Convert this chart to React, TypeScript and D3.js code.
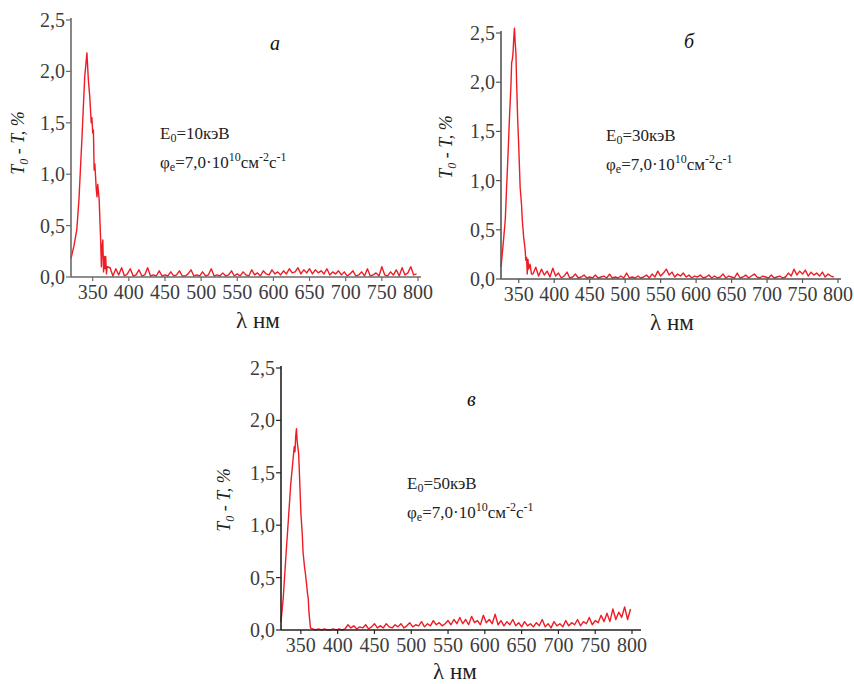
import React from "react";
import * as d3 from "d3";

// tick values shared by the three panels
const yTicks = [0, 0.5, 1, 1.5, 2, 2.5];
const xTicks = [350, 400, 450, 500, 550, 600, 650, 700, 750, 800];

// panel a: E0 = 10 keV
const peakA_x = [320, 324, 328, 331, 335, 339, 341, 342, 343, 344, 346, 348, 349, 350, 351, 352, 353, 355, 356, 357, 359, 360, 361, 362, 363, 364, 365, 366, 367, 368, 369, 370];
const peakA_y = [0.18, 0.3, 0.46, 0.75, 1.33, 1.95, 2.1, 2.18, 2.05, 1.92, 1.75, 1.5, 1.55, 1.4, 1.43, 1.04, 1.1, 0.85, 0.78, 0.9, 0.75, 0.55, 0.36, 0.1, 0.3, 0.36, 0.05, 0.2, 0.08, 0.2, 0.03, 0.1];
// background from 374 nm, every 4 nm
const noiseA_y = [
  0.09, 0.01, 0.08, 0.02, 0.09, 0.01, 0.03, 0.08, 0.01, 0.02,
  0.07, 0.01, 0.02, 0.09, 0.01, 0.02, 0.01, 0.06, 0.01, 0.02,
  0.01, 0.05, 0.01, 0.02, 0.06, 0.01, 0.01, 0.03, 0.07, 0.01,
  0.02, 0.01, 0.05, 0.01, 0.02, 0.08, 0.01, 0.02, 0.01, 0.04,
  0.01, 0.02, 0.06, 0.01, 0.03, 0.01, 0.05, 0.02, 0.01, 0.07,
  0.02, 0.04, 0.01, 0.06, 0.03, 0.02, 0.07, 0.03, 0.05, 0.02,
  0.06, 0.03, 0.08, 0.04, 0.05, 0.09, 0.03, 0.07, 0.04, 0.08,
  0.03, 0.07, 0.04, 0.06, 0.03, 0.08, 0.02, 0.05, 0.03, 0.06,
  0.02, 0.05, 0.01, 0.03, 0.06, 0.01, 0.02, 0.05, 0.01, 0.08,
  0.01, 0.02, 0.04, 0.01, 0.1, 0.02, 0.01, 0.05, 0.02, 0.07,
  0.01, 0.09, 0.02, 0.04, 0.1, 0.02, 0.03,
];

// panel б: E0 = 30 keV
const peakB_x = [325, 328, 331, 333, 335, 337, 339, 340, 341, 342, 343, 344, 345, 346, 347, 348.5, 350, 352, 354, 355, 357, 359, 360, 361, 362, 363, 364, 366, 368];
const peakB_y = [0.12, 0.35, 0.6, 0.95, 1.28, 1.65, 1.96, 2.2, 2.23, 2.3, 2.45, 2.55, 2.4, 2.3, 2.0, 1.62, 1.35, 0.93, 0.75, 0.6, 0.42, 0.3, 0.19, 0.22, 0.05, 0.2, 0.1, 0.15, 0.05];
// background from 370 nm, every 4 nm
const noiseB_y = [
  0.05, 0.12, 0.03, 0.1, 0.04, 0.08, 0.02, 0.11, 0.03, 0.06,
  0.01, 0.03, 0.07, 0.01, 0.02, 0.05, 0.01, 0.02, 0.04, 0.01,
  0.02, 0.01, 0.04, 0.01, 0.02, 0.03, 0.01, 0.05, 0.01, 0.02,
  0.01, 0.03, 0.01, 0.06, 0.01, 0.02, 0.01, 0.03, 0.01, 0.02,
  0.04, 0.01, 0.05, 0.02, 0.08, 0.03, 0.06, 0.1, 0.04, 0.07,
  0.02, 0.05, 0.03, 0.06, 0.02, 0.04, 0.01, 0.03, 0.02, 0.04,
  0.01, 0.02, 0.04, 0.01, 0.03, 0.01, 0.02, 0.05, 0.01, 0.03,
  0.02, 0.01, 0.06, 0.01, 0.02, 0.04, 0.01, 0.03, 0.05, 0.02,
  0.01, 0.03, 0.02, 0.01, 0.04, 0.01, 0.02, 0.03, 0.01, 0.02,
  0.06, 0.03, 0.1, 0.04, 0.08, 0.05, 0.09, 0.03, 0.07, 0.04,
  0.06, 0.03, 0.07, 0.02, 0.05, 0.03, 0.02,
];

// panel в: E0 = 50 keV
const peakC_x = [323, 326, 330, 333, 336, 339, 341, 342, 343, 344, 345, 347, 348, 350, 352, 353, 355, 356, 358, 359, 360, 361, 363];
const peakC_y = [0.08, 0.3, 0.74, 1.05, 1.37, 1.6, 1.75, 1.7, 1.85, 1.92, 1.8, 1.68, 1.5, 1.12, 0.9, 0.74, 0.6, 0.55, 0.42, 0.35, 0.3, 0.17, 0.02];
// background from 366 nm, every 4 nm
const noiseC_y = [
  0.01, 0.0, 0.01, 0.0, 0.01, 0.0, 0.0, 0.01, 0.0, 0.01,
  0.0, 0.01, 0.05, 0.02, 0.04, 0.01, 0.03, 0.02, 0.05, 0.01,
  0.03, 0.06, 0.02, 0.04, 0.02, 0.06, 0.03, 0.02, 0.05, 0.03,
  0.06, 0.02, 0.04, 0.07, 0.03, 0.05, 0.04, 0.08, 0.03, 0.06,
  0.04, 0.09, 0.05, 0.07, 0.04, 0.06, 0.09, 0.05, 0.1, 0.06,
  0.12, 0.06, 0.1, 0.05, 0.13, 0.07, 0.09, 0.05, 0.14, 0.07,
  0.1, 0.06, 0.15, 0.05, 0.09, 0.04, 0.08, 0.05, 0.1, 0.04,
  0.07, 0.03, 0.08, 0.04, 0.06, 0.03, 0.07, 0.04, 0.1, 0.03,
  0.06, 0.02, 0.08, 0.04, 0.06, 0.03, 0.09, 0.04, 0.07, 0.05,
  0.1, 0.04, 0.08, 0.06, 0.12, 0.05, 0.09, 0.07, 0.14, 0.08,
  0.16, 0.08, 0.2, 0.1, 0.17, 0.12, 0.22, 0.1, 0.2,
];

const FONT = "'Liberation Serif', 'Times New Roman', serif";
const RED = "#ee1c25";
const fmt = (v) => d3.format(".1f")(v).replace(".", ",");

const toPoints = (px, py, noiseStart, noise) => {
  const nx = noise.map((_, i) => noiseStart + i * 4);
  return [...px.map((x, i) => [x, py[i]]), ...nx.map((x, i) => [x, noise[i]])];
};

const panels = [
  {
    key: "a", letter: "а", energy: "10",
    pts: toPoints(peakA_x, peakA_y, 374, noiseA_y),
    xDomain: [320, 800], xRange: [71, 418], yRange: [277, 20], axisEnd: 421,
    axisColor: "#6a6a6a",
    letterPos: [270, 50], notePos: [160, 139], titleX: 24, titleY: 143, lambdaPos: [258, 328],
  },
  {
    key: "b", letter: "б", energy: "30",
    pts: toPoints(peakB_x, peakB_y, 370, noiseB_y),
    xDomain: [325, 800], xRange: [501, 838], yRange: [279, 33], axisEnd: 841,
    axisColor: "#555",
    letterPos: [684, 48], notePos: [606, 141], titleX: 452, titleY: 147, lambdaPos: [672, 330],
  },
  {
    key: "c", letter: "в", energy: "50",
    pts: toPoints(peakC_x, peakC_y, 366, noiseC_y),
    xDomain: [323, 800], xRange: [281, 632], yRange: [630, 368], axisEnd: 641,
    axisColor: "#222",
    letterPos: [467, 406], notePos: [407, 489], titleX: 230, titleY: 500, lambdaPos: [455, 679],
  },
];

const Panel = ({ p }) => {
  const x = d3.scaleLinear().domain(p.xDomain).range(p.xRange);
  const y = d3.scaleLinear().domain([0, 2.5]).range(p.yRange);
  const line = d3.line().x((d) => x(d[0])).y((d) => y(Math.max(0, d[1])));
  const x0 = p.xRange[0];
  const y0 = p.yRange[0];
  const [nx, ny] = p.notePos;
  return (
    <g>
      <path d={line(p.pts)} fill="none" stroke={RED} strokeWidth={1.4} strokeLinejoin="round" />
      {/* axes */}
      <line x1={x0} x2={x0} y1={y0} y2={p.yRange[1] - 2} stroke={p.axisColor} strokeWidth={1.6} />
      <line x1={x0} x2={p.axisEnd} y1={y0} y2={y0} stroke={p.axisColor} strokeWidth={1.6} />
      {yTicks.map((t) => (
        <g key={t}>
          <line x1={x0 - 5} x2={x0} y1={y(t)} y2={y(t)} stroke={p.axisColor} strokeWidth={1.2} />
          <text x={x0 - 6} y={y(t)} dy="0.35em" textAnchor="end" fontSize={20} fill="#3c3c3c" fontFamily={FONT}>
            {fmt(t)}
          </text>
        </g>
      ))}
      {xTicks.map((t) => (
        <g key={t}>
          <line x1={x(t)} x2={x(t)} y1={y0} y2={y0 + 4} stroke={p.axisColor} strokeWidth={1.2} />
          <text x={x(t)} y={y0 + 22} textAnchor="middle" fontSize={20} fill="#3c3c3c" fontFamily={FONT}>
            {t}
          </text>
        </g>
      ))}
      {/* y title */}
      <text
        transform={`translate(${p.titleX},${p.titleY}) rotate(-90)`}
        textAnchor="middle" fontSize={18} fontStyle="italic" fill="#222" fontFamily={FONT}
      >
        T<tspan fontSize={12} dy="4">0</tspan><tspan dy="-4"> - T, %</tspan>
      </text>
      {/* x title */}
      <text x={p.lambdaPos[0]} y={p.lambdaPos[1]} textAnchor="middle" fontSize={23} fill="#222" fontFamily={FONT}>
        λ  нм
      </text>
      {/* panel letter */}
      <text x={p.letterPos[0]} y={p.letterPos[1]} fontSize={20} fontStyle="italic" fill="#111" fontFamily={FONT}>
        {p.letter}
      </text>
      {/* annotation */}
      <text x={nx} y={ny} fontSize={17} fill="#222" fontFamily={FONT}>
        E<tspan fontSize={12} dy="3">0</tspan><tspan dy="-3">={p.energy}кэВ</tspan>
      </text>
      <text x={nx} y={ny + 29} fontSize={17} fill="#222" fontFamily={FONT}>
        φ<tspan fontSize={12} dy="3">e</tspan>
        <tspan dy="-3">=7,0·10</tspan>
        <tspan fontSize={12} dy="-7">10</tspan>
        <tspan dy="7">см</tspan>
        <tspan fontSize={12} dy="-7">-2</tspan>
        <tspan dy="7">с</tspan>
        <tspan fontSize={12} dy="-7">-1</tspan>
      </text>
    </g>
  );
};

export default function App() {
  return (
    <svg width={854} height={684} style={{ position: "absolute", left: 0, top: 0, background: "#fff" }}>
      <rect width={854} height={684} fill="#fff" />
      {panels.map((p) => (
        <Panel key={p.key} p={p} />
      ))}
    </svg>
  );
}
